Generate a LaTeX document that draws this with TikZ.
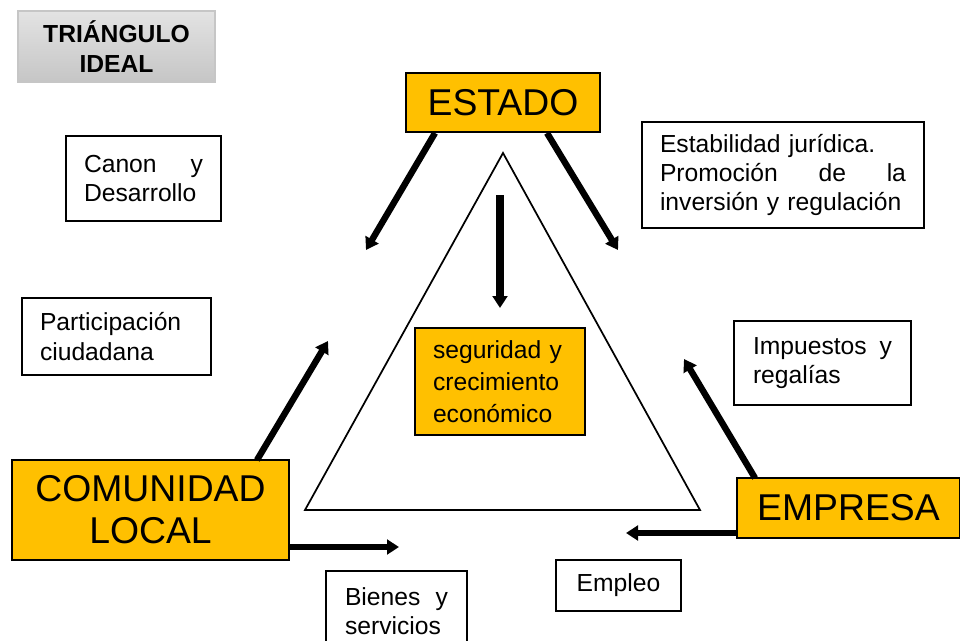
\documentclass[tikz,border=0pt]{standalone}
\usepackage{fontspec}
\setmainfont{Liberation Sans}
\usetikzlibrary{arrows.meta}
\definecolor{orng}{RGB}{255,192,0}
\newcommand{\jl}[2]{\leavevmode\hbox to #1{#2}}
\begin{document}
\begin{tikzpicture}[x=0.75pt,y=-0.75pt,
 wbox/.style={draw=black, line width=1pt, fill=white, inner sep=0pt, font=\fontsize{18.5}{22}\selectfont},
 obox/.style={draw=black, line width=1pt, fill=orng, inner sep=0pt},
 big/.style={font=\fontsize{28}{31.5}\selectfont},
 arr/.style={line width=4.8pt, -{Triangle[length=9pt,width=11pt]}},
 tri/.style={draw=black, line width=1.3pt}]
\path[use as bounding box] (0,0) rectangle (960,640);
\clip (0,0) rectangle (960,640);
% triangle
\coordinate (tA) at (503,153);
\coordinate (tB) at (305,510);
\coordinate (tC) at (700,510);
\draw[tri] (tA) -- (tB) -- (tC) -- cycle;
% title
\node[draw=gray!45, line width=0.8pt, top color=gray!22, bottom color=gray!45, minimum width=147.75pt, minimum height=53.25pt, inner sep=0pt, align=center, font=\bfseries\fontsize{18.5}{23}\selectfont] (title) at (116.5,46.5) {TRIÁNGULO\\IDEAL};
% main boxes
\node[obox, big, minimum width=145.5pt, minimum height=44.25pt] (estado) at (503,102.5) {ESTADO};
\node[obox, big, minimum width=207.75pt, minimum height=75pt, align=center] (comunidad) at (150.5,510) {COMUNIDAD\\LOCAL};
\node[obox, big, minimum width=167.25pt, minimum height=45pt] (empresa) at (848.5,508) {EMPRESA};
\node[obox, font=\fontsize{18.5}{24}\selectfont, minimum width=127.5pt, minimum height=80.25pt, text width=100.5pt, align=left] (seguridad) at (500,381.5) {seguridad y\\crecimiento\\económico};
% label boxes
\node[wbox, minimum width=116.25pt, minimum height=63.75pt, text width=89.25pt, align=left] (canon) at (143.5,178.5) {\jl{89.25pt}{Canon\hfill y}\\Desarrollo};
\node[wbox, minimum width=211.5pt, minimum height=79.5pt, text width=184.5pt, align=left] (estab) at (783,175) {Estabilidad jurídica.\\\jl{184.5pt}{Promoción\hfill de\hfill la}\\inversión y regulación};
\node[wbox, minimum width=141.75pt, minimum height=57.75pt, text width=114.75pt, align=left] (partic) at (116.5,336.5) {Participación\\ciudadana};
\node[wbox, minimum width=132.75pt, minimum height=63pt, text width=104.25pt, align=left] (impuestos) at (822.5,363) {\jl{104.25pt}{Impuestos\hfill y}\\regalías};
\node[wbox, minimum width=105.75pt, minimum height=60pt, text width=77.25pt, align=left] (bienes) at (396.5,611) {\jl{77.25pt}{Bienes\hfill y}\\servicios};
\node[wbox, minimum width=93.75pt, minimum height=38.25pt] (empleo) at (618.5,585.5) {Empleo};
% arrow coordinates
\coordinate (eL0) at (435,133);
\coordinate (eL1) at (366,250);
\coordinate (eR0) at (547,133);
\coordinate (eR1) at (618,250);
\coordinate (eC0) at (500,195);
\coordinate (eC1) at (500,308);
\coordinate (cU0) at (257,460);
\coordinate (cU1) at (328,341);
\coordinate (cR0) at (289,547);
\coordinate (cR1) at (399,547);
\coordinate (pU0) at (755,478);
\coordinate (pU1) at (684,359);
\coordinate (pL0) at (737,533);
\coordinate (pL1) at (626,533);
\draw[arr] (eL0) -- (eL1);
\draw[arr] (eR0) -- (eR1);
\draw[arr, line width=6pt] (eC0) -- (eC1);
\draw[arr] (cU0) -- (cU1);
\draw[arr] (cR0) -- (cR1);
\draw[arr] (pU0) -- (pU1);
\draw[arr] (pL0) -- (pL1);
\end{tikzpicture}
\end{document}
